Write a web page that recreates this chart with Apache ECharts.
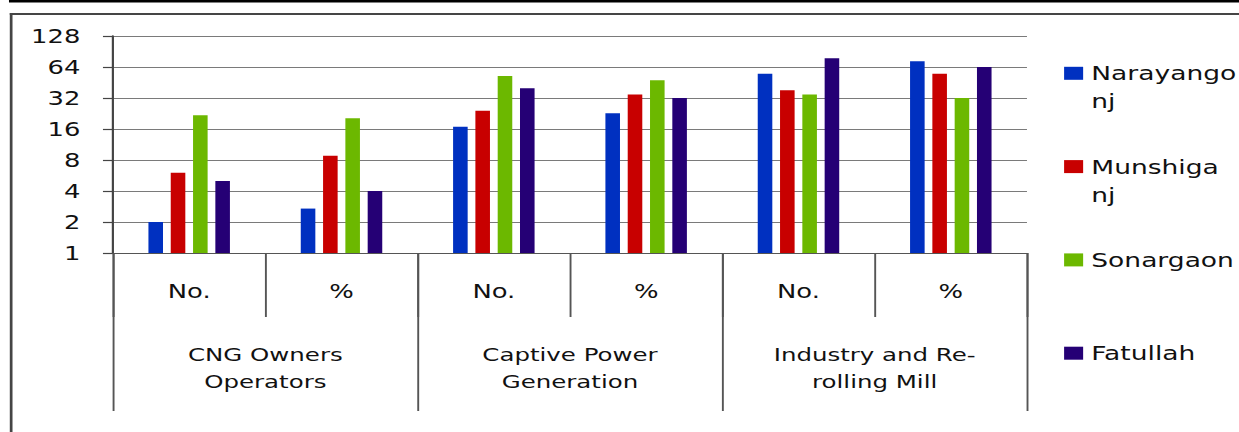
<!DOCTYPE html>
<html>
<head>
<meta charset="utf-8">
<script src="https://cdn.jsdelivr.net/npm/echarts@6/dist/echarts.min.js"></script>
<style>
  html, body { margin: 0; padding: 0; background: #fff; overflow: hidden; }
  #wrap { width: 1239px; height: 432px; overflow: hidden; }
  #chart { width: 911px; height: 432px; transform-origin: 0 0; transform: scaleX(1.36004); }
</style>
</head>
<body>
<div id="wrap"><div id="chart"></div></div>
<script>
// ---- data ----
const innerCategories = ['No.', '%', 'No.', '%', 'No.', '%'];
const groupCategories = ['CNG Owners\nOperators', 'Captive Power\nGeneration', 'Industry and Re-\nrolling Mill'];
const seriesNames = ['Narayangonj', 'Munshiganj', 'Sonargaon', 'Fatullah'];
const narayangonj = [2, 2.7, 16.8, 22.7, 55, 72.7];
const munshiganj  = [6, 8.8, 24, 34.7, 38, 55];
const sonargaon   = [21.7, 20.3, 52.3, 47.5, 34.7, 32];
const fatullah    = [5, 4, 39.7, 32, 78, 64];
const yTicks = [1, 2, 4, 8, 16, 32, 64, 128];

const seriesValues = [narayangonj, munshiganj, sonargaon, fatullah];
const colors = ['#0030C0', '#C80000', '#6CB800', '#250075'];

const FONT = 'DejaVu Sans';
const chart = echarts.init(document.getElementById('chart'), null, { renderer: 'svg' });

chart.setOption({
  animation: false,
  backgroundColor: '#ffffff',
  color: colors,
  graphic: [
    { type: 'rect', shape: { x: 6.6, y: 0, width: 920, height: 2.5 }, style: { fill: '#000' }, silent: true },
    { type: 'rect', shape: { x: 7.2, y: 13, width: 920, height: 2 }, style: { fill: '#454545' }, silent: true },
    { type: 'rect', shape: { x: 7.2, y: 13, width: 2, height: 430 }, style: { fill: '#454545' }, silent: true }
  ],
  grid: { left: 83.1, top: 36, width: 672, height: 217, containLabel: false },
  legend: {
    orient: 'vertical',
    left: 782.4,
    top: 31.3,
    padding: 0,
    itemWidth: 14,
    itemHeight: 13,
    itemGap: 9.3,
    icon: 'rect',
    data: seriesNames,
    formatter: function (name) {
      // wrap long names as the original legend does; keep first line level with the swatch
      return name.length > 9
        ? ' \n' + name.slice(0, -2) + '\n' + name.slice(-2)
        : ' \n' + name + '\n ';
    },
    textStyle: { fontFamily: FONT, fontSize: 19.5, lineHeight: 28, color: '#111', padding: [0, 0, 0, 1] }
  },
  xAxis: [
    {
      type: 'category',
      data: innerCategories,
      position: 'bottom',
      axisLine: { show: true, lineStyle: { color: '#555', width: 1.2 } },
      axisTick: { show: true, interval: 0, length: 64, lineStyle: { color: '#555', width: 1.4 } },
      axisLabel: { interval: 0, margin: 28.5, fontFamily: FONT, fontSize: 19, color: '#111' },
      splitLine: { show: false }
    },
    {
      type: 'category',
      data: groupCategories,
      position: 'bottom',
      axisLine: { show: false },
      axisTick: { show: true, interval: 0, length: 158, lineStyle: { color: '#555', width: 1.4 } },
      axisLabel: { interval: 0, margin: 88.5, fontFamily: FONT, fontSize: 18, lineHeight: 27, color: '#111', align: 'center' },
      splitLine: { show: false }
    }
  ],
  yAxis: {
    type: 'log',
    logBase: 2,
    min: yTicks[0],
    max: yTicks[yTicks.length - 1],
    interval: 1,
    axisLine: { show: true, lineStyle: { color: '#444', width: 1.6 } },
    axisTick: { show: true, length: 7.4, lineStyle: { color: '#444', width: 1.2 } },
    axisLabel: {
      margin: 24,
      fontFamily: FONT, fontSize: 19, color: '#111',
      formatter: function (v) {
        let best = yTicks[0];
        yTicks.forEach(function (t) { if (Math.abs(t - v) < Math.abs(best - v)) best = t; });
        return String(best);
      }
    },
    splitLine: { show: true, lineStyle: { color: '#7a7a7a', width: 1 } }
  },
  series: seriesNames.map(function (n, i) {
    return {
      name: n,
      type: 'bar',
      xAxisIndex: 0,
      data: seriesValues[i],
      barGap: '53%',
      barCategoryGap: '46.5%',
      itemStyle: { color: colors[i] }
    };
  })
});
</script>
</body>
</html>
